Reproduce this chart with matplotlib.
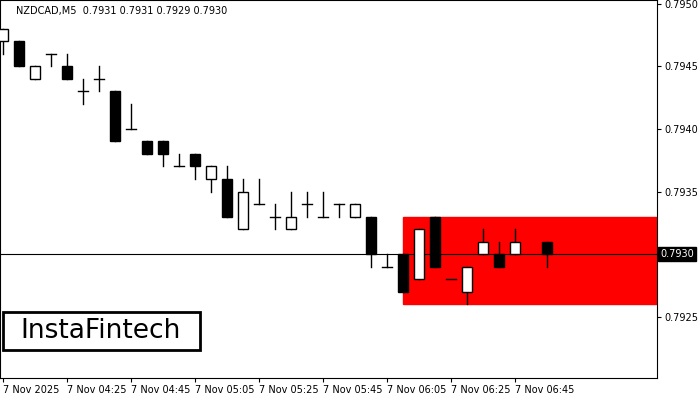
import numpy as np
import matplotlib.pyplot as plt
from matplotlib.patches import Rectangle

nan = np.nan
opens  = [.7947,.7947,.7944,.7946,.7945,.7943,.7944,.7943,.7940,.7939,.7939,.7937,.7938,.7936,.7936,.7932,.7934,.7933,.7932,.7934,.7933,
          .7934,.7933,.7933,.7929,.7930,.7928,.7933,.7928,.7927,.7930,.7930,.7930,nan,.7931]
closes = [.7948,.7945,.7945,.7946,.7944,.7943,.7944,.7939,.7940,.7938,.7938,.7937,.7937,.7937,.7933,.7935,.7934,.7933,.7933,.7934,.7933,
          .7934,.7934,.7930,.7929,.7927,.7932,.7929,.7928,.7929,.7931,.7929,.7931,nan,.7930]
highs  = [.7948,.7947,.7945,.7946,.7946,.7944,.7945,.7943,.7942,.7939,.7939,.7938,.7938,.7937,.7937,.7936,.7936,.7934,.7935,.7935,.7935,
          .7934,.7934,.7933,.7930,.7930,.7932,.7933,.7928,.7929,.7932,.7931,.7932,nan,.7931]
lows   = [.7946,.7945,.7944,.7945,.7944,.7942,.7943,.7939,.7940,.7938,.7937,.7937,.7936,.7935,.7933,.7932,.7934,.7932,.7932,.7933,.7933,
          .7933,.7933,.7929,.7929,.7927,.7928,.7929,.7928,.7926,.7930,.7929,.7930,nan,.7929]
xlabels = ["7 Nov 2025", "7 Nov 04:25", "7 Nov 04:45", "7 Nov 05:05", "7 Nov 05:25",
           "7 Nov 05:45", "7 Nov 06:05", "7 Nov 06:25", "7 Nov 06:45"]
yticks = [0.7925, 0.7930, 0.7935, 0.7940, 0.7945, 0.7950]
zone_start, zone_top, zone_bottom = 25, 0.7933, 0.7926
last_price = 0.7930

fig = plt.figure(figsize=(7, 4), dpi=100)
ax = fig.add_axes([0, 0.055, 657/700, 0.945])
ax.set_xlim(-0.19, 40.9)
ax.set_ylim(0.79201, 0.79503)

ax.add_patch(Rectangle((zone_start, zone_bottom), 50, zone_top - zone_bottom,
                       color='#ff0000', zorder=1))
ax.axhline(last_price, color='black', lw=0.8, zorder=2)

w = 0.62
for i in range(len(opens)):
    o, c, h, l = opens[i], closes[i], highs[i], lows[i]
    if np.isnan(o):
        continue
    ax.plot([i, i], [l, h], color='black', lw=1, zorder=3)
    if o == c:
        ax.plot([i - w/2, i + w/2], [o, o], color='black', lw=1, zorder=3)
    else:
        face = 'white' if c > o else 'black'
        ax.add_patch(Rectangle((i - w/2, min(o, c)), w, abs(c - o),
                               facecolor=face, edgecolor='black', lw=1, zorder=4))

ax.yaxis.tick_right()
ax.set_yticks(yticks)
ax.set_yticklabels(["" if v == last_price else "%.4f" % v for v in yticks], fontsize=7)
ax.set_xticks(np.arange(len(xlabels)) * 4)
ax.set_xticklabels(xlabels, fontsize=7, ha='left')
ax.tick_params(length=3, pad=2)
for s in ax.spines.values():
    s.set_linewidth(0.8)

ax.text(1.005, (last_price - 0.79201) / (0.79503 - 0.79201), "0.7930", transform=ax.transAxes,
        fontsize=7, color='white', va='center', ha='left',
        bbox=dict(boxstyle='square,pad=0.2', fc='black', ec='black'))
ax.text(0.025, 0.985, "NZDCAD,M5  0.7931 0.7931 0.7929 0.7930", transform=ax.transAxes,
        fontsize=7, va='top', ha='left')

fig.add_artist(Rectangle((3/700, 1 - 350/400), 197/700, 38/400, transform=fig.transFigure,
                         facecolor='white', edgecolor='black', lw=2, zorder=10))
fig.text(101/700, 1 - 331/400, "InstaFintech", fontsize=19, va='center', ha='center', zorder=11)

fig.savefig("out.png")
